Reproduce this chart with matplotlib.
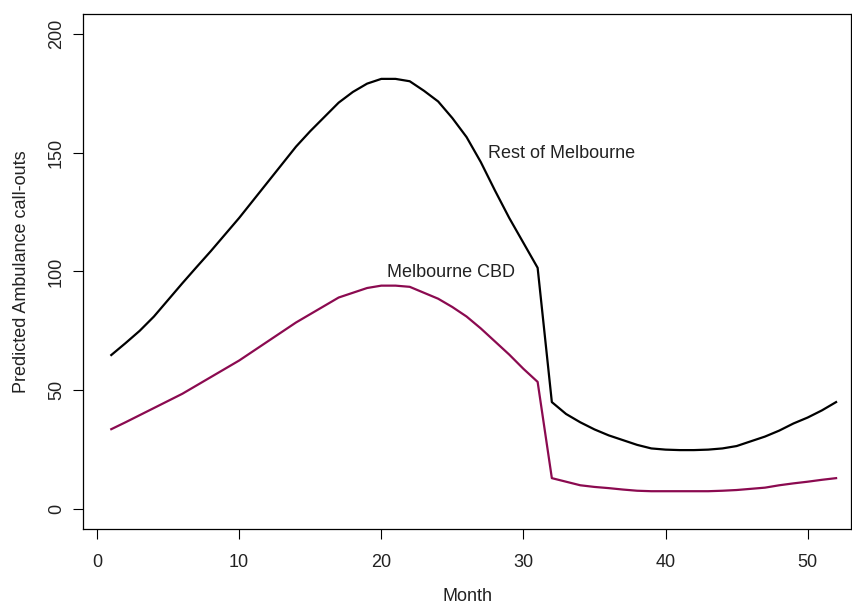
import numpy as np
import matplotlib.pyplot as plt

plt.rcParams['font.family'] = ['Liberation Sans', 'DejaVu Sans']

months = np.arange(1, 53)

rest_of_melbourne = [
    64.8, 69.8, 75.0, 81.0, 88.0, 95.0, 101.8, 108.5, 115.5, 122.5,
    130.0, 137.5, 145.0, 152.5, 159.0, 165.0, 171.0, 175.5, 179.0, 181.0,
    181.0, 180.0, 176.0, 171.5, 164.5, 156.5, 146.0, 134.0, 122.5, 112.0,
    101.5, 45.0, 40.0, 36.5, 33.5, 31.0, 29.0, 27.0, 25.5, 25.0,
    24.8, 24.8, 25.0, 25.5, 26.5, 28.5, 30.5, 33.0, 36.0, 38.5,
    41.5, 45.0,
]

melbourne_cbd = [
    33.6, 36.5, 39.5, 42.5, 45.5, 48.5, 52.0, 55.5, 59.0, 62.5,
    66.5, 70.5, 74.5, 78.5, 82.0, 85.5, 89.0, 91.0, 93.0, 94.0,
    94.0, 93.5, 91.0, 88.5, 85.0, 81.0, 76.0, 70.5, 65.0, 59.0,
    53.5, 13.0, 11.5, 10.0, 9.3, 8.8, 8.2, 7.7, 7.5, 7.5,
    7.5, 7.5, 7.5, 7.7, 8.0, 8.5, 9.0, 10.0, 10.8, 11.5,
    12.3, 13.0,
]

x_ticks = [0, 10, 20, 30, 40, 50]
y_ticks = [0, 50, 100, 150, 200]

fig = plt.figure(figsize=(8.52, 6.03), dpi=100)
ax = fig.add_axes([83 / 852, 74 / 603, 768 / 852, 515 / 603])

ax.plot(months, rest_of_melbourne, color='black', lw=1.6)
ax.plot(months, melbourne_cbd, color='#8B0A50', lw=1.6)

ax.text(32.7, 149.5, 'Rest of Melbourne', ha='center', va='center', fontsize=13, color='#222222')
ax.text(24.9, 99.5, 'Melbourne CBD', ha='center', va='center', fontsize=13, color='#222222')

ax.set_xlim(-0.99, 53.05)
ax.set_ylim(-8.4, 208.3)
ax.set_xticks(x_ticks)
ax.set_yticks(y_ticks)
ax.set_yticklabels([str(v) for v in y_ticks], rotation=90, va='center')

ax.tick_params(direction='out', length=7, width=0.8, labelsize=13, labelcolor='#222222')
ax.tick_params(axis='x', pad=11)
ax.tick_params(axis='y', pad=6)
for s in ax.spines.values():
    s.set_linewidth(0.9)

ax.set_xlabel('Month', fontsize=13, color='#222222', labelpad=12)
ax.set_ylabel('Predicted Ambulance call-outs', fontsize=13, color='#222222', labelpad=13)

fig.savefig('out.png', dpi=100)
